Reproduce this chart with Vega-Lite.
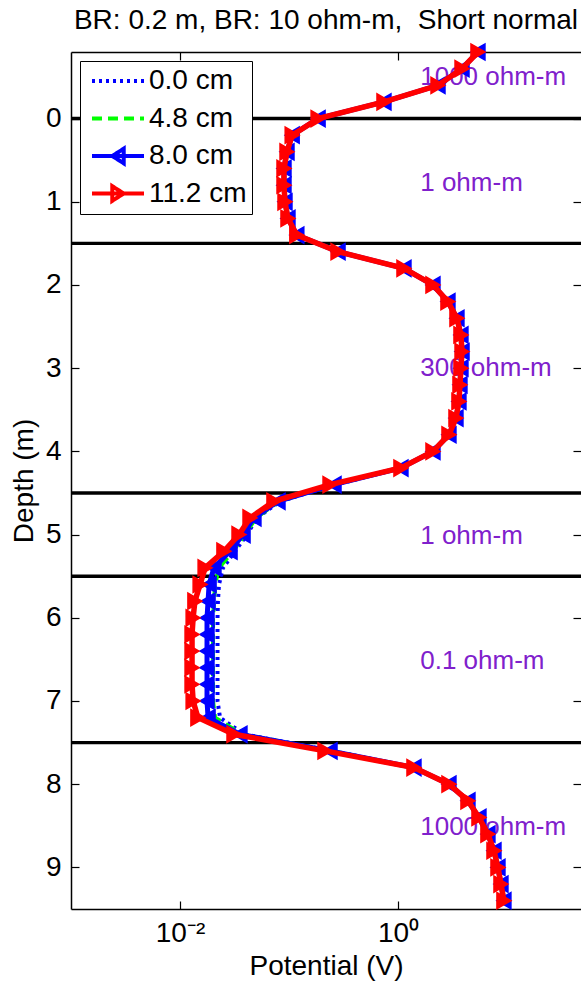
{
  "$schema": "https://vega.github.io/schema/vega-lite/v6.json",
  "width": 510,
  "height": 857,
  "autosize": {"type": "none"},
  "padding": {"left": 71, "top": 52, "right": 0, "bottom": 78},
  "background": "white",
  "title": {
    "text": "BR: 0.2 m, BR: 10 ohm-m,\u00a0 Short normal",
    "font": "Liberation Sans",
    "fontSize": 28,
    "fontWeight": "normal",
    "color": "black",
    "anchor": "middle",
    "frame": "group",
    "baseline": "alphabetic",
    "offset": 0,
    "dy": 16
  },
  "config": {
    "view": {"stroke": null},
    "font": "Liberation Sans",
    "axis": {
      "grid": false,
      "domainColor": "black",
      "domainWidth": 1.5,
      "tickColor": "black",
      "tickWidth": 1.2,
      "tickSize": -8,
      "labelFont": "Liberation Sans",
      "labelFontSize": 28,
      "labelColor": "black",
      "titleFont": "Liberation Sans",
      "titleFontSize": 28,
      "titleFontWeight": "normal",
      "titleColor": "black"
    },
    "legend": {
      "orient": "top-left",
      "offset": 9,
      "padding": 5,
      "strokeColor": "black",
      "fillColor": "white",
      "cornerRadius": 0,
      "labelFont": "Liberation Sans",
      "labelFontSize": 28,
      "labelColor": "black",
      "labelLimit": 0,
      "labelOffset": 3,
      "symbolSize": 2704,
      "symbolStrokeWidth": 4,
      "symbolOffset": 5,
      "symbolOpacity": 1,
      "clipHeight": 30,
      "rowPadding": 7.5
    }
  },
  "datasets": {
    "bounds": [
      {"depth": 0}, {"depth": 1.5}, {"depth": 4.5}, {"depth": 5.5}, {"depth": 7.5}
    ],
    "zones": [
      {"zone": "1000 ohm-m", "depth": -0.5},
      {"zone": "1 ohm-m", "depth": 0.77},
      {"zone": "300 ohm-m", "depth": 3.0},
      {"zone": "1 ohm-m", "depth": 5.02},
      {"zone": "0.1 ohm-m", "depth": 6.52},
      {"zone": "1000 ohm-m", "depth": 8.52}
    ],
    "keys": [
      {"series": "0.0 cm"}, {"series": "4.8 cm"}, {"series": "8.0 cm"}, {"series": "11.2 cm"}
    ],
    "profiles": [
      {"depth": -0.8, "p00": 5.42, "p48": 5.42, "p80": 5.42, "p112": 5.42},
      {"depth": -0.6, "p00": 3.87, "p48": 3.87, "p80": 3.87, "p112": 3.87},
      {"depth": -0.4, "p00": 2.33, "p48": 2.33, "p80": 2.33, "p112": 2.33},
      {"depth": -0.2, "p00": 0.744, "p48": 0.744, "p80": 0.744, "p112": 0.744},
      {"depth": 0.0, "p00": 0.185, "p48": 0.185, "p80": 0.185, "p112": 0.185},
      {"depth": 0.2, "p00": 0.107, "p48": 0.107, "p80": 0.107, "p112": 0.107},
      {"depth": 0.4, "p00": 0.0959, "p48": 0.0959, "p80": 0.0959, "p112": 0.0959},
      {"depth": 0.6, "p00": 0.09, "p48": 0.09, "p80": 0.09, "p112": 0.09},
      {"depth": 0.8, "p00": 0.09, "p48": 0.09, "p80": 0.09, "p112": 0.09},
      {"depth": 1.0, "p00": 0.0919, "p48": 0.0919, "p80": 0.0919, "p112": 0.0919},
      {"depth": 1.2, "p00": 0.0979, "p48": 0.0979, "p80": 0.0979, "p112": 0.0979},
      {"depth": 1.4, "p00": 0.118, "p48": 0.118, "p80": 0.118, "p112": 0.118},
      {"depth": 1.6, "p00": 0.282, "p48": 0.282, "p80": 0.282, "p112": 0.282},
      {"depth": 1.8, "p00": 1.135, "p48": 1.135, "p80": 1.135, "p112": 1.135},
      {"depth": 2.0, "p00": 2.095, "p48": 2.095, "p80": 2.095, "p112": 2.095},
      {"depth": 2.2, "p00": 2.875, "p48": 2.875, "p80": 2.875, "p112": 2.875},
      {"depth": 2.4, "p00": 3.477, "p48": 3.477, "p80": 3.477, "p112": 3.477},
      {"depth": 2.6, "p00": 3.784, "p48": 3.784, "p80": 3.784, "p112": 3.784},
      {"depth": 2.8, "p00": 3.87, "p48": 3.87, "p80": 3.87, "p112": 3.87},
      {"depth": 3.0, "p00": 3.784, "p48": 3.784, "p80": 3.784, "p112": 3.784},
      {"depth": 3.2, "p00": 3.705, "p48": 3.705, "p80": 3.705, "p112": 3.705},
      {"depth": 3.4, "p00": 3.627, "p48": 3.627, "p80": 3.627, "p112": 3.627},
      {"depth": 3.6, "p00": 3.405, "p48": 3.405, "p80": 3.405, "p112": 3.405},
      {"depth": 3.8, "p00": 2.937, "p48": 2.937, "p80": 2.937, "p112": 2.937},
      {"depth": 4.0, "p00": 2.095, "p48": 2.095, "p80": 2.095, "p112": 2.095},
      {"depth": 4.2, "p00": 1.065, "p48": 1.065, "p80": 1.065, "p112": 1.065},
      {"depth": 4.4, "p00": 0.264, "p48": 0.259, "p80": 0.259, "p112": 0.238},
      {"depth": 4.6, "p00": 0.0827, "p48": 0.081, "p80": 0.0793, "p112": 0.0728},
      {"depth": 4.8, "p00": 0.0508, "p48": 0.0498, "p80": 0.0477, "p112": 0.0439},
      {"depth": 5.0, "p00": 0.0412, "p48": 0.0395, "p80": 0.0379, "p112": 0.0348},
      {"depth": 5.2, "p00": 0.032, "p48": 0.0306, "p80": 0.0288, "p112": 0.0253},
      {"depth": 5.4, "p00": 0.0248, "p48": 0.0228, "p80": 0.0205, "p112": 0.017},
      {"depth": 5.6, "p00": 0.0228, "p48": 0.021, "p80": 0.0185, "p112": 0.0153},
      {"depth": 5.8, "p00": 0.0223, "p48": 0.0205, "p80": 0.0181, "p112": 0.0137},
      {"depth": 6.0, "p00": 0.0221, "p48": 0.0201, "p80": 0.0177, "p112": 0.0132},
      {"depth": 6.2, "p00": 0.0221, "p48": 0.0201, "p80": 0.0177, "p112": 0.0129},
      {"depth": 6.4, "p00": 0.0221, "p48": 0.0201, "p80": 0.0177, "p112": 0.0129},
      {"depth": 6.6, "p00": 0.0221, "p48": 0.0201, "p80": 0.0177, "p112": 0.0129},
      {"depth": 6.8, "p00": 0.0221, "p48": 0.0201, "p80": 0.0177, "p112": 0.0129},
      {"depth": 7.0, "p00": 0.0221, "p48": 0.0201, "p80": 0.0177, "p112": 0.0132},
      {"depth": 7.2, "p00": 0.0233, "p48": 0.021, "p80": 0.0181, "p112": 0.0146},
      {"depth": 7.4, "p00": 0.0387, "p48": 0.0371, "p80": 0.0355, "p112": 0.0313},
      {"depth": 7.6, "p00": 0.248, "p48": 0.243, "p80": 0.238, "p112": 0.214},
      {"depth": 7.8, "p00": 1.402, "p48": 1.402, "p80": 1.402, "p112": 1.402},
      {"depth": 8.0, "p00": 2.937, "p48": 2.937, "p80": 2.937, "p112": 2.937},
      {"depth": 8.2, "p00": 4.387, "p48": 4.387, "p80": 4.387, "p112": 4.387},
      {"depth": 8.4, "p00": 5.535, "p48": 5.535, "p80": 5.535, "p112": 5.535},
      {"depth": 8.6, "p00": 6.69, "p48": 6.69, "p80": 6.69, "p112": 6.69},
      {"depth": 8.8, "p00": 7.6, "p48": 7.6, "p80": 7.6, "p112": 7.6},
      {"depth": 9.0, "p00": 8.27, "p48": 8.27, "p80": 8.27, "p112": 8.27},
      {"depth": 9.2, "p00": 8.81, "p48": 8.81, "p80": 8.81, "p112": 8.81},
      {"depth": 9.4, "p00": 9.38, "p48": 9.38, "p80": 9.38, "p112": 9.38}
    ]
  },
  "resolve": {"axis": {"x": "independent", "y": "independent"}},
  "layer": [
    {
      "data": {"name": "bounds"},
      "mark": {"type": "rule", "color": "black", "strokeWidth": 3.4},
      "encoding": {
        "y": {"field": "depth", "type": "quantitative", "axis": null,
              "scale": {"domain": [-0.8, 9.5], "reverse": true, "nice": false, "zero": false}}
      }
    },
    {
      "data": {"name": "zones"},
      "mark": {"type": "text", "align": "left", "baseline": "middle", "font": "Liberation Sans", "fontSize": 26, "color": "#8020CC"},
      "encoding": {
        "x": {"datum": 1.6, "type": "quantitative", "axis": null,
              "scale": {"type": "log", "domain": [0.001, 47.8], "nice": false}},
        "y": {"field": "depth", "type": "quantitative", "axis": null},
        "text": {"field": "zone"}
      }
    },
    {
      "data": {"name": "profiles"},
      "mark": {"type": "line", "color": "#0000FF", "strokeWidth": 4, "strokeDash": [3, 4], "strokeCap": "butt"},
      "encoding": {
        "x": {"field": "p00", "type": "quantitative",
              "scale": {"type": "log", "domain": [0.001, 47.8], "nice": false},
              "axis": {"orient": "bottom", "values": [0.01, 1],
                       "labelExpr": "datum.value < 0.1 ? '10⁻²' : '10⁰'",
                       "labelPadding": 18, "title": "Potential (V)", "titlePadding": 5}},
        "y": {"field": "depth", "type": "quantitative",
              "axis": {"orient": "left", "values": [0, 1, 2, 3, 4, 5, 6, 7, 8, 9],
                       "labelPadding": 18, "title": "Depth (m)", "titlePadding": 7}},
        "order": {"field": "depth", "type": "quantitative"}
      }
    },
    {
      "data": {"name": "profiles"},
      "mark": {"type": "line", "color": "#00FF00", "strokeWidth": 4, "strokeDash": [10, 6], "strokeCap": "butt"},
      "encoding": {
        "x": {"field": "p48", "type": "quantitative",
              "axis": {"orient": "top", "values": [0.01, 1], "labels": false, "title": null}},
        "y": {"field": "depth", "type": "quantitative",
              "axis": {"orient": "right", "values": [0, 1, 2, 3, 4, 5, 6, 7, 8, 9], "labels": false, "domain": false, "title": null}},
        "order": {"field": "depth", "type": "quantitative"}
      }
    },
    {
      "data": {"name": "profiles"},
      "mark": {"type": "line", "color": "#0000FF", "strokeWidth": 5},
      "encoding": {
        "x": {"field": "p80", "type": "quantitative", "axis": null},
        "y": {"field": "depth", "type": "quantitative", "axis": null},
        "order": {"field": "depth", "type": "quantitative"}
      }
    },
    {
      "data": {"name": "profiles"},
      "mark": {"type": "point", "shape": "triangle-left", "filled": true, "color": "#0000FF", "stroke": "#0000FF", "strokeWidth": 1.5, "size": 260, "opacity": 1},
      "encoding": {
        "x": {"field": "p80", "type": "quantitative", "axis": null},
        "y": {"field": "depth", "type": "quantitative", "axis": null}
      }
    },
    {
      "data": {"name": "profiles"},
      "mark": {"type": "line", "color": "#FF0000", "strokeWidth": 5.5},
      "encoding": {
        "x": {"field": "p112", "type": "quantitative", "axis": null},
        "y": {"field": "depth", "type": "quantitative", "axis": null},
        "order": {"field": "depth", "type": "quantitative"}
      }
    },
    {
      "data": {"name": "profiles"},
      "mark": {"type": "point", "shape": "triangle-right", "filled": true, "color": "#FF0000", "stroke": "#FF0000", "strokeWidth": 1.5, "size": 260, "opacity": 1},
      "encoding": {
        "x": {"field": "p112", "type": "quantitative", "axis": null},
        "y": {"field": "depth", "type": "quantitative", "axis": null}
      }
    },
    {
      "data": {"name": "keys"},
      "mark": {"type": "point", "filled": false, "opacity": 0, "strokeWidth": 4},
      "encoding": {
        "color": {"field": "series", "type": "nominal", "legend": {"title": null},
                  "scale": {"domain": ["0.0 cm", "4.8 cm", "8.0 cm", "11.2 cm"],
                            "range": ["#0000FF", "#00FF00", "#0000FF", "#FF0000"]}},
        "shape": {"field": "series", "type": "nominal", "legend": {"title": null},
                  "scale": {"domain": ["0.0 cm", "4.8 cm", "8.0 cm", "11.2 cm"],
                            "range": ["M-1,0H1", "M-1,0H1",
                                      "M-1,0H1M0.22,-0.28L-0.22,0L0.22,0.28Z",
                                      "M-1,0H1M-0.22,-0.28L0.22,0L-0.22,0.28Z"]}},
        "strokeDash": {"field": "series", "type": "nominal", "legend": {"title": null},
                       "scale": {"domain": ["0.0 cm", "4.8 cm", "8.0 cm", "11.2 cm"],
                                 "range": [[3, 4], [10, 6], [1, 0], [1, 0]]}}
      }
    }
  ]
}
